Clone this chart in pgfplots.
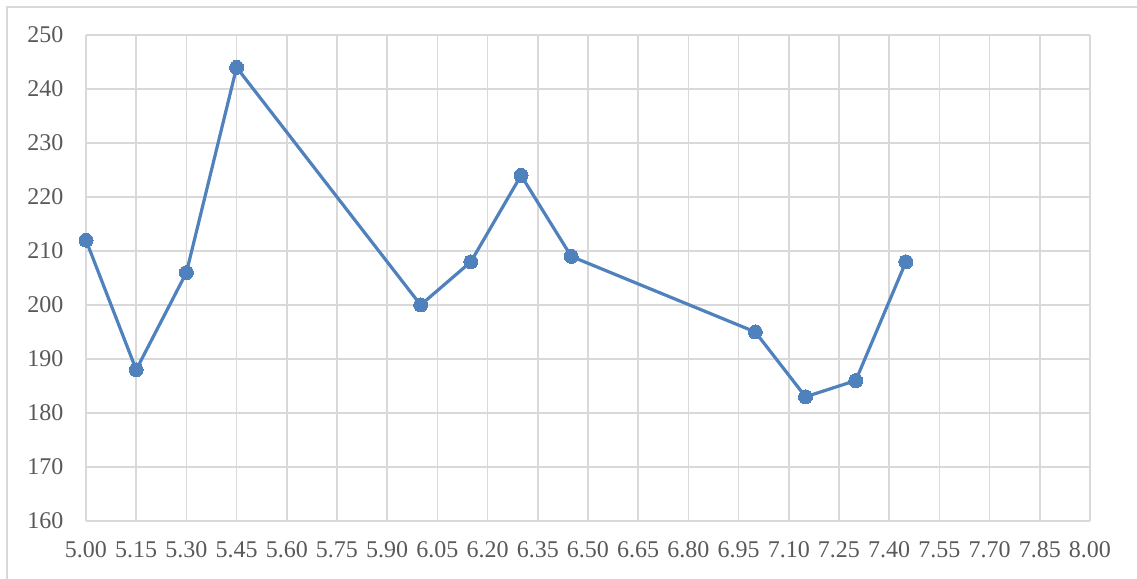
\documentclass[border=0pt]{standalone}
\usepackage{fontspec}
\setmainfont{Liberation Serif}
\usepackage{pgfplots}
\pgfplotsset{compat=1.18}
\definecolor{gridc}{HTML}{D9D9D9}
\definecolor{linec}{HTML}{4F81BD}
\definecolor{labc}{HTML}{595959}
\begin{document}
\begin{tikzpicture}[x=1pt,y=1pt]
\useasboundingbox (0,0) rectangle (1137,578);
\draw[gridc, line width=2pt] (7,-5) -- (7,571) -- (1145,571);
\begin{axis}[
  at={(86pt,57pt)}, anchor=south west,
  scale only axis, width=1004pt, height=486pt,
  xmin=5, xmax=8, ymin=160, ymax=250,
  xtick={5.00,5.15,5.30,5.45,5.60,5.75,5.90,6.05,6.20,6.35,6.50,6.65,6.80,6.95,7.10,7.25,7.40,7.55,7.70,7.85,8.00},
  xticklabels={5.00,5.15,5.30,5.45,5.60,5.75,5.90,6.05,6.20,6.35,6.50,6.65,6.80,6.95,7.10,7.25,7.40,7.55,7.70,7.85,8.00},
  ytick={160,170,180,190,200,210,220,230,240,250},
  yticklabels={160,170,180,190,200,210,220,230,240,250},
  major tick length=0pt,
  grid=major,
  major grid style={gridc, line width=1.6pt},
  axis line style={draw=none},
  ticklabel style={font=\fontsize{24}{28}\selectfont, text=labc},
  xticklabel style={yshift=-17pt},
  yticklabel style={xshift=-19pt},
  clip=false,
]
\addplot[linec, line width=3.2pt, mark=*, mark size=7pt, mark options={fill=linec, draw=linec, line width=0pt}] coordinates {
(5.00,212) (5.15,188) (5.30,206) (5.45,244) (6.00,200) (6.15,208) (6.30,224) (6.45,209) (7.00,195) (7.15,183) (7.30,186) (7.45,208)
};
\end{axis}
\end{tikzpicture}
\end{document}
